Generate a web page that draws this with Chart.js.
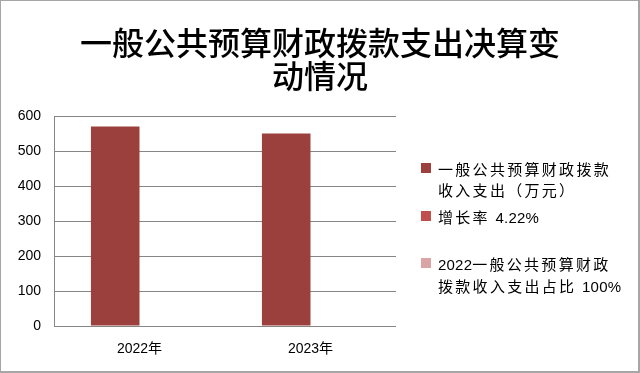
<!DOCTYPE html>
<html lang="zh">
<head>
<meta charset="UTF-8">
<title>一般公共预算财政拨款支出决算变动情况</title>
<script src="https://cdn.jsdelivr.net/npm/chart.js"></script>
<style>
  body { margin: 0; background: #fff; }
  .wrap { position: relative; width: 640px; height: 373px; }
  .frame {
    position: absolute; left: 0; top: 0; width: 640px; height: 373px;
    box-sizing: border-box; pointer-events: none;
    border: 1px solid #a6a6a6; border-right-width: 2px; border-bottom-width: 2px;
  }
  #title {
    position: absolute; left: 0; top: 25px; width: 640px; text-align: center;
    font-family: "Noto Sans CJK SC", sans-serif; font-size: 32px; font-weight: 500;
    line-height: 33px; color: #000;
  }
  #legend {
    position: absolute; left: 421px; top: 158px;
    font-family: "Noto Sans CJK SC", "Liberation Sans", sans-serif;
    font-size: 15px; color: #000; letter-spacing: 2.3px;
  }
  #legend .item { position: relative; padding-left: 17px; line-height: 21px; }
  #legend .box { position: absolute; left: 0; top: 5px; width: 10px; height: 10px; }
  #legend .lat { letter-spacing: 0.2px; font-family: "Liberation Sans", sans-serif; font-size: 15px; }
</style>
</head>
<body>
<div class="wrap">
  <canvas id="chart" width="640" height="373"></canvas>
  <div id="title"></div>
  <div id="legend"></div>
  <div class="frame"></div>
</div>
<script>
const years = ['2022年', '2023年'];
const spending = [570, 550];
const growthRate = [null, null];
const share2022 = [];
const yTicks = [0, 100, 200, 300, 400, 500, 600];
const seriesNames = [
  ['一般公共预算财政拨款', '收入支出（万元）'],
  ['增长率 4.22%'],
  ['2022一般公共预算财政', '拨款收入支出占比 100%']
];
const titleLines = ['一般公共预算财政拨款支出决算变', '动情况'];

const colors = ['#9b403d', '#c0504d', '#d9a6a5'];

const chart = new Chart(document.getElementById('chart'), {
  type: 'bar',
  data: {
    labels: years,
    datasets: [
      { label: seriesNames[0], data: spending, backgroundColor: colors[0] },
      { label: seriesNames[1], data: growthRate, backgroundColor: colors[1] },
      { label: seriesNames[2], data: share2022, backgroundColor: colors[2], grouped: false }
    ]
  },
  options: {
    responsive: false,
    animation: false,
    categoryPercentage: 0.568,
    barPercentage: 1,
    layout: { padding: { left: 0, right: 244, top: 116, bottom: 0 } },
    plugins: {
      legend: { display: false },
      tooltip: { enabled: false },
      title: { display: false }
    },
    scales: {
      x: {
        grid: { display: false, drawTicks: false },
        border: { display: false },
        ticks: {
          color: '#000', padding: 15,
          font: { family: '"Liberation Sans", "Noto Sans CJK SC", sans-serif', size: 14 }
        },
        afterFit: s => { s.height = 47; }
      },
      y: {
        min: 0, max: 600,
        afterBuildTicks: s => { s.ticks = yTicks.map(v => ({ value: v })); },
        grid: { color: '#868686', drawTicks: false },
        border: { color: '#868686' },
        ticks: {
          color: '#000', padding: 13,
          font: { family: '"Liberation Sans", sans-serif', size: 14 }
        },
        afterFit: s => { s.width = 54; }
      }
    }
  }
});

// title as text above the plot
const title = document.getElementById('title');
titleLines.forEach(line => {
  const d = document.createElement('div');
  d.textContent = line;
  title.appendChild(d);
});

// legend on the right, built from the datasets; latin runs get tighter spacing
const legend = document.getElementById('legend');
const gaps = [0, 6, 25];
chart.data.datasets.forEach((ds, i) => {
  const item = document.createElement('div');
  item.className = 'item';
  item.style.marginTop = gaps[i] + 'px';
  const box = document.createElement('span');
  box.className = 'box';
  box.style.background = ds.backgroundColor;
  item.appendChild(box);
  ds.label.forEach(line => {
    const d = document.createElement('div');
    line.split(/([0-9.%]+)/).forEach(part => {
      if (!part) return;
      if (/^[0-9.%]+$/.test(part)) {
        const s = document.createElement('span');
        s.className = 'lat';
        s.textContent = part;
        d.appendChild(s);
      } else {
        d.appendChild(document.createTextNode(part));
      }
    });
    item.appendChild(d);
  });
  legend.appendChild(item);
});
</script>
</body>
</html>
